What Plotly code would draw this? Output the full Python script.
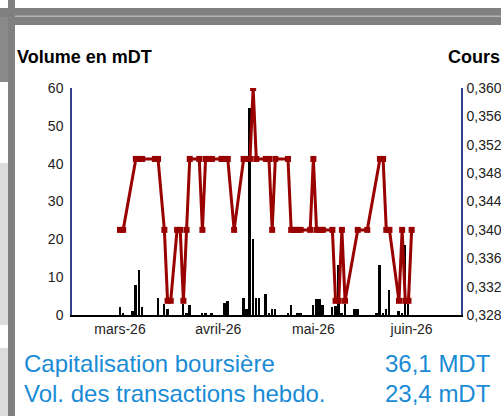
import plotly.graph_objects as go

# ---- data -------------------------------------------------------------
price_dates = [
    "2026-03-01", "2026-03-02", "2026-03-06", "2026-03-07", "2026-03-08",
    "2026-03-12", "2026-03-13", "2026-03-15", "2026-03-16", "2026-03-17",
    "2026-03-19", "2026-03-20", "2026-03-21", "2026-03-22", "2026-03-23",
    "2026-03-26", "2026-03-27", "2026-03-28", "2026-03-29", "2026-03-30",
    "2026-04-02", "2026-04-03", "2026-04-04", "2026-04-06", "2026-04-09",
    "2026-04-10", "2026-04-11", "2026-04-12", "2026-04-13", "2026-04-16",
    "2026-04-17", "2026-04-18", "2026-04-19", "2026-04-23", "2026-04-24",
    "2026-04-25", "2026-04-26", "2026-04-27", "2026-04-30", "2026-05-01",
    "2026-05-02", "2026-05-03", "2026-05-04", "2026-05-07", "2026-05-08",
    "2026-05-09", "2026-05-10", "2026-05-11", "2026-05-15", "2026-05-18",
    "2026-05-22", "2026-05-23", "2026-05-24", "2026-05-25", "2026-05-28",
    "2026-05-29", "2026-05-30", "2026-05-31", "2026-06-01",
]
price_values = [
    0.34, 0.34, 0.35, 0.35, 0.35,
    0.35, 0.35, 0.34, 0.33, 0.33,
    0.34, 0.34, 0.33, 0.34, 0.35,
    0.35, 0.34, 0.35, 0.35, 0.35,
    0.35, 0.35, 0.35, 0.34, 0.35,
    0.35, 0.35, 0.36, 0.35, 0.35,
    0.35, 0.34, 0.35, 0.35, 0.34,
    0.34, 0.34, 0.34, 0.34, 0.35,
    0.34, 0.34, 0.34, 0.34, 0.33,
    0.33, 0.34, 0.33, 0.34, 0.34,
    0.35, 0.35, 0.34, 0.34, 0.33,
    0.34, 0.33, 0.33, 0.34,
]

volume_dates = [
    "2026-03-01", "2026-03-02", "2026-03-05", "2026-03-06", "2026-03-07",
    "2026-03-08", "2026-03-13", "2026-03-15", "2026-03-16", "2026-03-21",
    "2026-03-22", "2026-03-23", "2026-03-27", "2026-03-28", "2026-03-30",
    "2026-04-03", "2026-04-04", "2026-04-09", "2026-04-10", "2026-04-11",
    "2026-04-12", "2026-04-13", "2026-04-14", "2026-04-16", "2026-04-17",
    "2026-04-18", "2026-04-19", "2026-04-23", "2026-04-24", "2026-04-26",
    "2026-04-27", "2026-05-01", "2026-05-02", "2026-05-03", "2026-05-04",
    "2026-05-07", "2026-05-08", "2026-05-09", "2026-05-10", "2026-05-11",
    "2026-05-14", "2026-05-15", "2026-05-21", "2026-05-22", "2026-05-23",
    "2026-05-24", "2026-05-25", "2026-05-28", "2026-05-29", "2026-05-30",
    "2026-05-31",
]
volume_values = [
    2.0, 0.5, 1.1, 7.8, 12.0,
    2.0, 4.5, 2.9, 1.5, 2.9,
    0.4, 2.7, 0.4, 0.3, 0.4,
    3.3, 3.8, 4.5, 1.5, 54.8,
    20.0, 4.5, 4.5, 5.6, 0.4,
    1.5, 1.5, 0.4, 2.7, 0.4,
    0.4, 2.7, 4.3, 4.3, 2.7,
    2.0, 2.5, 13.2, 0.5, 3.0,
    1.5, 1.5, 0.4, 13.2, 0.4,
    1.5, 6.7, 1.1, 0.4, 18.5,
    3.0,
]

month_ticks = ["2026-03-01", "2026-04-01", "2026-05-01", "2026-06-01"]
month_labels = ["mars-26", "avril-26", "mai-26", "juin-26"]

volume_ticks = [0, 10, 20, 30, 40, 50, 60]
price_ticks = [0.328, 0.332, 0.336, 0.340, 0.344, 0.348, 0.352, 0.356, 0.360]

summary_labels = ["Capitalisation boursière", "Vol. des transactions hebdo."]
summary_values = ["36,1 MDT", "23,4 mDT"]

# ---- page geometry ----------------------------------------------------
W, H = 501, 416
L, R, T, B = 72, 40, 88, 101
PW, PH = W - L - R, H - T - B

FONT = "Liberation Sans, Arial, sans-serif"
RED = "#990000"
AXIS_BLUE = "#33408a"
TEXT_BLUE = "#1a8bd5"


def px(x):
    return (x - L) / PW


def py(y):
    return (H - B - y) / PH


fig = go.Figure()

fig.add_trace(go.Bar(
    x=volume_dates, y=volume_values,
    marker=dict(color="black", line=dict(width=0)),
    width=0.62 * 86400000,
    yaxis="y", hoverinfo="skip",
))

fig.add_trace(go.Scatter(
    x=price_dates, y=price_values, yaxis="y2",
    mode="lines+markers",
    line=dict(color=RED, width=3),
    marker=dict(symbol="square", size=6, color=RED),
    hoverinfo="skip",
))

# frame of the surrounding page
shapes = []


def rect(x0, y0, x1, y1, color):
    shapes.append(dict(type="rect", xref="paper", yref="paper",
                       x0=px(x0), x1=px(x1), y0=py(y0), y1=py(y1),
                       line=dict(width=0), fillcolor=color, layer="above"))


rect(0, 8, W, 25, "#808080")
rect(15, 15.5, W, 17, "#b4b4b4")
rect(0, 17, 8, 82, "#8a8a8a")
rect(0, 163, 8, 325, "#dcdcdc")
rect(0, 348, 8, H, "#dcdcdc")
rect(8, 0, 15, H, "#808080")

annotations = [
    dict(text="<b>Volume en mDT</b>", x=px(15), y=py(57), xanchor="left",
         yanchor="middle", font=dict(size=18, color="black", family=FONT)),
    dict(text="<b>Cours</b>", x=px(446), y=py(57), xanchor="left",
         yanchor="middle", font=dict(size=18, color="black", family=FONT)),
]
for i, (lab, val) in enumerate(zip(summary_labels, summary_values)):
    yy = 363 + 30.5 * i
    annotations.append(dict(text=lab, x=px(22), y=py(yy), xanchor="left",
                            yanchor="middle",
                            font=dict(size=24, color=TEXT_BLUE, family=FONT)))
    annotations.append(dict(text=val, x=px(493), y=py(yy), xanchor="right",
                            yanchor="middle",
                            font=dict(size=24, color=TEXT_BLUE, family=FONT)))
for a in annotations:
    a.update(xref="paper", yref="paper", showarrow=False)

fig.update_layout(
    template="none",
    width=W, height=H,
    margin=dict(l=L, r=R, t=T, b=B, autoexpand=False),
    paper_bgcolor="white", plot_bgcolor="white",
    separators=",.",
    showlegend=False,
    bargap=0,
    font=dict(family=FONT, size=14, color="#222"),
    xaxis=dict(
        type="date", automargin=False,
        range=["2026-02-13 20:38", "2026-06-16 13:41"],
        tickvals=month_ticks, ticktext=month_labels,
        showgrid=False, zeroline=False,
        showline=True, linecolor="black", linewidth=2,
        ticks="", tickfont=dict(size=14, color="#222"),
    ),
    yaxis=dict(
        range=[0, 60], tickvals=volume_ticks, automargin=False,
        showgrid=False, zeroline=False,
        showline=True, linecolor=AXIS_BLUE, linewidth=1.5,
        ticks="", ticklabelstandoff=4,
        tickfont=dict(size=14, color="#222"),
    ),
    yaxis2=dict(
        range=[0.328, 0.360], tickvals=price_ticks, tickformat=".3f",
        overlaying="y", side="right", automargin=False,
        showgrid=False, zeroline=False,
        showline=True, linecolor=AXIS_BLUE, linewidth=1.5,
        ticks="", ticklabelstandoff=1,
        tickfont=dict(size=14, color="#222"),
    ),
    shapes=shapes,
    annotations=annotations,
)

fig.write_html("out.html")
